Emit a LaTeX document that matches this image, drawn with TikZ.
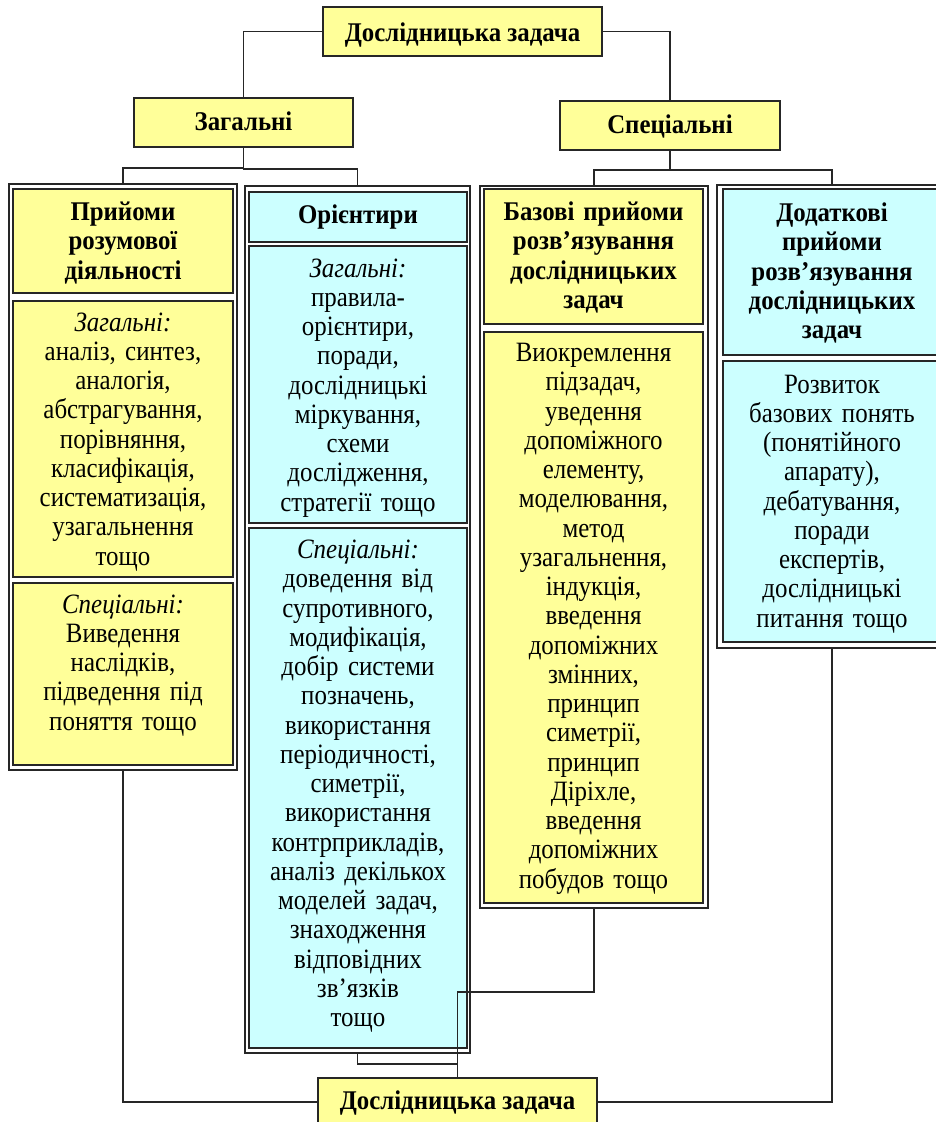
\documentclass[tikz,border=0pt]{standalone}
\usepackage{fontspec}
\setmainfont{Liberation Serif}
\newfontfamily\bodyfont{Liberation Serif}[FakeStretch=0.89]
\newfontfamily\headfont{Liberation Serif}[FakeStretch=0.92]
\definecolor{yel}{HTML}{FFFF99}
\definecolor{cya}{HTML}{CCFFFF}
\definecolor{edge}{HTML}{262626}
\begin{document}
\begin{tikzpicture}[x=1pt,y=-1pt,
  every node/.style={inner sep=0pt, outer sep=0pt},
  frame/.style={draw=edge, line width=1.3pt, fill=white, anchor=north west},
  ybox/.style={draw=edge, line width=1.6pt, fill=yel, anchor=north west},
  cbox/.style={draw=edge, line width=1.6pt, fill=cya, anchor=north west},
  txt/.style={anchor=base, align=center, font=\bodyfont\fontsize{28}{29.25}\selectfont},
  btxt/.style={anchor=base, align=center, font=\headfont\fontsize{27}{29.25}\selectfont\bfseries},
  conn/.style={draw=edge, line width=1.3pt}]
\useasboundingbox (0,0) rectangle (936,1122);
\clip (0,0) rectangle (936,1122);

% top level boxes
\node[ybox, minimum width=279pt, minimum height=49pt] (T) at (323,7) {};
\node[btxt] (Tt) at (462.5,41) {Дослідницька задача};
\node[ybox, minimum width=219pt, minimum height=49pt] (Z) at (134,98) {};
\node[btxt] (Zt) at (243.5,130) {Загальні};
\node[ybox, minimum width=220pt, minimum height=49pt] (S) at (560,101) {};
\node[btxt] (St) at (670,133) {Спеціальні};

% column 1
\node[frame, minimum width=228pt, minimum height=586pt] (c1) at (9,184) {};
\node[ybox, minimum width=220pt, minimum height=104pt] (h1) at (13,189) {};
\node[btxt, text width=210pt] (h1t) at (123,220.5) {Прийоми\\розумової\\діяльності};
\node[ybox, minimum width=220pt, minimum height=276pt] (b1a) at (13,301) {};
\node[txt, text width=214pt] (b1at) at (123,331) {\textit{Загальні:}\\аналіз, синтез,\\аналогія,\\абстрагування,\\порівняння,\\класифікація,\\систематизація,\\узагальнення\\тощо};
\node[ybox, minimum width=220pt, minimum height=182pt] (b1b) at (13,583) {};
\node[txt, text width=214pt] (b1bt) at (123,613) {\textit{Спеціальні:}\\Виведення\\наслідків,\\підведення під\\поняття тощо};

% column 2
\node[frame, minimum width=225pt, minimum height=867pt] (c2) at (245,186) {};
\node[cbox, minimum width=218pt, minimum height=50pt] (h2) at (249,192) {};
\node[btxt, text width=210pt] (h2t) at (358,223) {Орієнтири};
\node[cbox, minimum width=218pt, minimum height=277pt] (b2a) at (249,246) {};
\node[txt, text width=214pt] (b2at) at (358,277) {\textit{Загальні:}\\правила-\\орієнтири,\\поради,\\дослідницькі\\міркування,\\схеми\\дослідження,\\стратегії тощо};
\node[cbox, minimum width=218pt, minimum height=520pt] (b2b) at (249,528) {};
\node[txt, text width=214pt] (b2bt) at (358,558.5) {\textit{Спеціальні:}\\доведення від\\супротивного,\\модифікація,\\добір системи\\позначень,\\використання\\періодичності,\\симетрії,\\використання\\контрприкладів,\\аналіз декількох\\моделей задач,\\знаходження\\відповідних\\зв’язків\\тощо};

% column 3
\node[frame, minimum width=228pt, minimum height=722pt] (c3) at (480,186) {};
\node[ybox, minimum width=219pt, minimum height=135pt] (h3) at (484,189) {};
\node[btxt, text width=212pt] (h3t) at (593.5,220.5) {Базові прийоми\\розв’язування\\дослідницьких\\задач};
\node[ybox, minimum width=219pt, minimum height=571pt] (b3a) at (484,332) {};
\node[txt, text width=214pt] (b3at) at (593.5,361.5) {Виокремлення\\підзадач,\\уведення\\допоміжного\\елементу,\\моделювання,\\метод\\узагальнення,\\індукція,\\введення\\допоміжних\\змінних,\\принцип\\симетрії,\\принцип\\Діріхле,\\введення\\допоміжних\\побудов тощо};

% column 4
\node[frame, minimum width=230pt, minimum height=463pt] (c4) at (717,185) {};
\node[cbox, minimum width=218pt, minimum height=166pt] (h4) at (723,189) {};
\node[btxt, text width=212pt] (h4t) at (832,221.5) {Додаткові\\прийоми\\розв’язування\\дослідницьких\\задач};
\node[cbox, minimum width=218pt, minimum height=281pt] (b4a) at (723,361) {};
\node[txt, text width=214pt] (b4at) at (832,393) {Розвиток\\базових понять\\(понятійного\\апарату),\\дебатування,\\поради\\експертів,\\дослідницькі\\питання тощо};

% bottom box
\node[ybox, minimum width=279pt, minimum height=48pt] (B) at (318,1078) {};
\node[btxt] (Bt) at (457.5,1109) {Дослідницька задача};

% connectors
\draw[conn] (T.west) -| (Z.north);
\draw[conn] (T.east) -| (S.north);
\draw[conn] (Z.south) -- ++(0,21) -| (c1.north);
\draw[conn] (Z.south) -- ++(0,22) -| (c2.north);
\draw[conn] (S.south) -- ++(0,20) -| (c3.north);
\draw[conn] (S.south) -- ++(0,20) -| (c4.north);
\draw[conn] (c1.south) |- (B.west);
\draw[conn] (c4.south) |- (B.east);
\draw[conn] (c2.south) -- ++(0,11) -| (B.north);
\draw[conn] (c3.south) -- ++(0,84) -| (B.north);
\end{tikzpicture}
\end{document}
